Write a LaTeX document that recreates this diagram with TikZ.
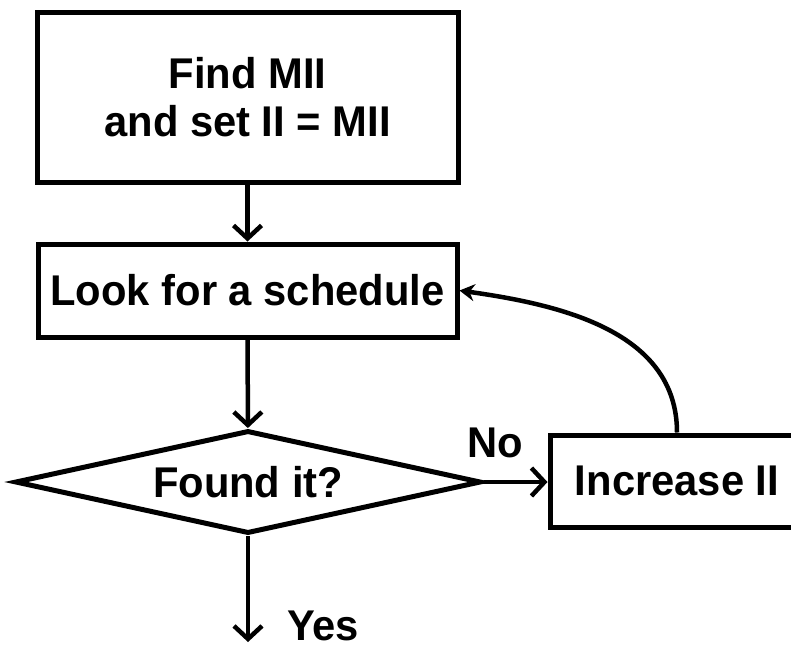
\documentclass[tikz,border=0pt]{standalone}
\usepackage{fontspec}
\setmainfont{Liberation Sans}[FakeStretch=0.97]
\usetikzlibrary{shapes.geometric,arrows.meta}
\begin{document}
\begin{tikzpicture}[x=1pt,y=-1pt,
  every node/.style={font=\fontsize{43}{48}\selectfont\bfseries},
  box/.style={draw,line width=5pt,inner sep=0pt,align=center},
  decision/.style={draw,line width=5pt,inner sep=0pt,shape=diamond,aspect=4.5},
  lbl/.style={inner sep=0pt,anchor=base west},
  flow/.style={line width=4.5pt,-{Straight Barb[length=13pt,width=28pt,line width=4.5pt]}},
  loopback/.style={line width=4.5pt,-{Stealth[length=15pt,width=17pt]}},
]
\useasboundingbox (0,0) rectangle (791,649);
\clip (0,0) rectangle (791,649);

% steps of the modulo scheduling loop
\node[box,minimum width=421pt,minimum height=170pt] (find) at (247.5,97) {Find MII\\and set II = MII};
\node[box,minimum width=419pt,minimum height=93pt] (look) at (247.5,290.5) {Look for a schedule};
\node[decision,minimum width=466pt,minimum height=103pt] (found) at (248,482) {Found it?};
\node[box,minimum width=254pt,minimum height=92pt] (inc) at (677,481) {Increase II};

% branch labels
\node[lbl] (nolbl) at (467,457) {No};
\node[lbl] (yeslbl) at (287,640) {Yes};
\coordinate (exit) at (248,642);

% connectors
\draw[flow] (find) -- (look);
\draw[flow] (look) -- (found);
\draw[flow] (found.east) -- (found.east -| inc.west);
\draw[flow] (found.south) -- (exit);
\draw[loopback] (inc.north) to[out=90,in=-8] (look.east);
\end{tikzpicture}
\end{document}
